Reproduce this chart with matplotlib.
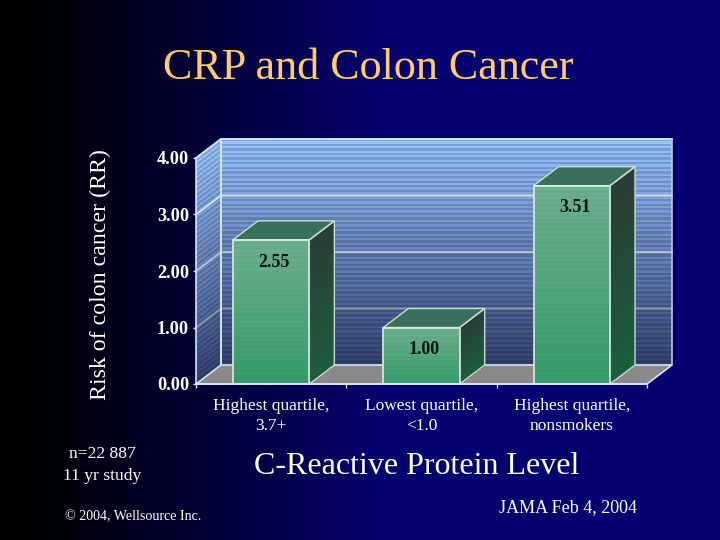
import numpy as np
import matplotlib
matplotlib.use('Agg')
import matplotlib.pyplot as plt
from matplotlib.colors import to_rgb
from matplotlib.patches import Polygon

categories = ['Highest quartile,\n3.7+', 'Lowest quartile,\n<1.0', 'Highest quartile,\nnonsmokers']
values = [2.55, 1.00, 3.51]
value_labels = ['2.55', '1.00', '3.51']
y_ticks = [0, 1, 2, 3, 4]

plt.rcParams['font.family'] = ['Liberation Serif', 'DejaVu Serif']

# depth of the 3d box, in data units of the front plane
dx = 25 / 150.3
dy = 19 / 56.5
edge = '#d8e4f0'

def shaded_quad(ax, x0, x1, y0, y1, shift_right, c_top, c_bot, stripes=0, amp=0.0, z=1):
    # quad from (x0,y0)-(x1,y1), right side sheared up when shift_right is set
    n = stripes if stripes else 60
    s = np.linspace(0, 1, n + 1)
    xs = np.array([x0, x1])
    X = np.tile(xs, (n + 1, 1))
    Y = np.outer(y0 + (y1 - y0) * s, [1, 1])
    if shift_right:
        Y[:, 1] += shift_right
    c_top, c_bot = np.array(to_rgb(c_top)), np.array(to_rgb(c_bot))
    t = (s[:-1] + s[1:]) / 2
    cols = c_bot + (c_top - c_bot) * t[:, None]
    if stripes:
        cols[::2] = np.clip(cols[::2] * (1 + amp), 0, 1)
        cols[1::2] = np.clip(cols[1::2] * (1 - amp), 0, 1)
    img = cols[:, None, :]
    ax.pcolormesh(X, Y, img, shading='flat', clip_on=False, zorder=z, rasterized=True)

fig = plt.figure(figsize=(7.2, 5.4), dpi=100)

# slide background, black on the left fading into navy
bg = fig.add_axes([0, 0, 1, 1], zorder=0)
bg.axis('off')
ramp = np.clip((np.linspace(0, 1, 720) - 0.04) / 0.5, 0, 1)
grad = np.zeros((1, 720, 3))
grad[0, :, 2] = ramp * 0.44
grad[0, :, 0] = ramp * 0.02
bg.imshow(grad, aspect='auto', extent=[0, 1, 0, 1])

ax = fig.add_axes([196 / 720, 1 - 384 / 540, 451 / 720, 226 / 540], zorder=1)
ax.set_xlim(0, 3)
ax.set_ylim(0, 4)
ax.patch.set_alpha(0)
for s in ax.spines.values():
    s.set_visible(False)

top = 4 + dy
# back wall and left wall
shaded_quad(ax, dx, 3 + dx, dy, top, 0, '#8cb6ee', '#2e3c68', stripes=98, amp=0.09, z=1)
shaded_quad(ax, 0, dx, 0, 4, dy, '#8cb6ee', '#2e3c68', stripes=90, amp=0.09, z=1)

# floor
ax.add_patch(Polygon([(0, 0), (dx, dy), (3 + dx, dy), (3, 0)], closed=True,
                     fc='#8a8888', ec=edge, lw=1.2, clip_on=False, zorder=2))

# grid on walls
for v in y_ticks[1:]:
    shade = {1: '#8a96ac', 2: '#b4c2d8', 3: '#d8e4f4', 4: edge}[v]
    ax.plot([0, dx, 3 + dx], [v, v + dy, v + dy], color=shade, lw=1.4, clip_on=False, zorder=3)
ax.plot([dx, dx], [dy, top], color=edge, lw=1.4, clip_on=False, zorder=3)
ax.plot([3 + dx, 3 + dx], [dy, top], color='#b8c8e0', lw=1.2, clip_on=False, zorder=3)
ax.plot([0, 0], [0, 4], color=edge, lw=1.2, clip_on=False, zorder=3)

# 3d bars
bar_w = 0.508
for i, v in enumerate(values):
    l = i + 0.5 - bar_w / 2
    r = l + bar_w
    shaded_quad(ax, l, r, 0, v, 0, '#6cae8c', '#359a68', stripes=int(v * 24), amp=0.012, z=4)
    shaded_quad(ax, r, r + dx, 0, v, dy, '#2a3c34', '#1c5e3e', z=4)
    ax.add_patch(Polygon([(l, v), (l + dx, v + dy), (r + dx, v + dy), (r, v)], closed=True,
                         fc='#38705c', ec='#c8dcd4', lw=1.0, clip_on=False, zorder=5))
    ax.add_patch(Polygon([(l, 0), (l, v), (r, v), (r, 0)], closed=True,
                         fc='none', ec='#dcece4', lw=1.2, clip_on=False, zorder=5))
    ax.add_patch(Polygon([(r, 0), (r + dx, dy), (r + dx, v + dy), (r, v)], closed=True,
                         fc='none', ec='#c8dcd4', lw=1.0, clip_on=False, zorder=5))
    ax.annotate(value_labels[i], (i + 0.5, v), xytext=(2, -16), textcoords='offset points',
                ha='center', va='center', fontsize=13, fontweight='bold',
                color='#06140e', zorder=6)

ax.plot([0, 3], [0, 0], color=edge, lw=1.4, clip_on=False, zorder=5)

# axes ticks
ax.set_yticks(y_ticks)
ax.set_yticklabels(['%.2f' % v for v in y_ticks], fontsize=13.2, fontweight='bold', color='white')
ax.tick_params(axis='y', length=2, width=1, color=edge, pad=3)
ax.set_xticks([0, 1, 2, 3])
ax.set_xticklabels([])
ax.set_xticks([0.5, 1.5, 2.5], minor=True)
ax.set_xticklabels(categories, minor=True, fontsize=12.5, color='white', linespacing=1.35)
ax.tick_params(axis='x', which='major', length=3, width=1, color=edge)
ax.tick_params(axis='x', which='minor', length=0, pad=10)

def px(x, y):
    return x / 720, 1 - y / 540

fig.text(*px(368, 68), 'CRP and Colon Cancer', ha='center', va='center', fontsize=31.8, color='#ffcc66')
fig.text(*px(100, 275), 'Risk of colon cancer (RR)', ha='center', va='center', rotation=90, fontsize=17.2, color='white')
fig.text(*px(417, 467), 'C-Reactive Protein Level', ha='center', va='center', fontsize=23, color='white')
fig.text(*px(102, 465), 'n=22 887\n11 yr study', ha='center', va='center', fontsize=12.6, color='white', linespacing=1.55)
fig.text(*px(133, 517), '\u00a9 2004, Wellsource Inc.', ha='center', va='center', fontsize=10.1, color='white')
fig.text(*px(568, 508), 'JAMA Feb 4, 2004', ha='center', va='center', fontsize=13, color='white')

fig.savefig('out.png', dpi=100)
